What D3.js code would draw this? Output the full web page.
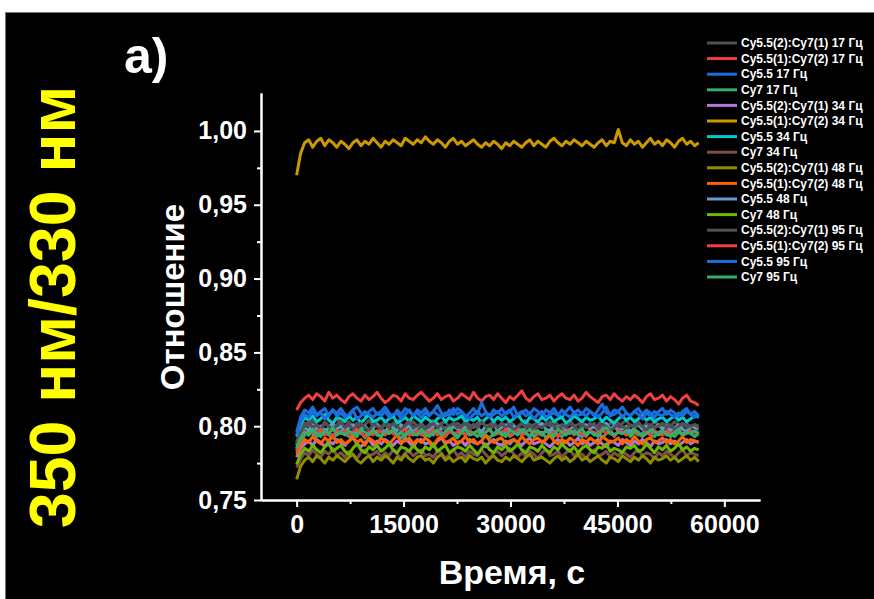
<!DOCTYPE html>
<html>
<head>
<meta charset="utf-8">
<script src="https://cdn.jsdelivr.net/npm/d3@7"></script>
<style>
  html, body { margin: 0; padding: 0; background: #fff; }
  svg { display: block; }
  text { font-family: "Liberation Sans", Arial, sans-serif; font-weight: bold; }
</style>
</head>
<body>
<svg id="chart" width="874" height="599"></svg>
<script>
// Sampling grid of the time traces (s)
const timeStep = 564;

// Ratio traces, one value per time sample
const ratio21_17 = [0.789,
  0.798,0.802,0.800,0.804,0.801,0.799,0.803,0.800,0.802,0.805,
  0.801,0.799,0.803,0.800,0.802,0.798,0.801,0.804,0.800,0.802,
  0.799,0.803,0.801,0.800,0.804,0.801,0.798,0.802,0.803,0.800,
  0.802,0.799,0.801,0.804,0.800,0.802,0.803,0.799,0.801,0.802,
  0.800,0.803,0.801,0.799,0.802,0.804,0.800,0.801,0.803,0.799,
  0.802,0.800,0.803,0.801,0.798,0.802,0.804,0.800,0.801,0.803,
  0.799,0.802,0.800,0.803,0.801,0.799,0.802,0.804,0.800,0.801,
  0.803,0.800,0.802,0.799,0.801,0.804,0.800,0.802,0.801,0.798,
  0.802,0.804,0.800,0.801,0.803,0.799,0.802,0.800,0.803,0.801,
  0.799,0.802,0.800,0.803,0.801,0.800,0.802,0.799,0.801,0.800];
const ratio12_17 = [0.811,
  0.816,0.819,0.821,0.818,0.822,0.820,0.817,0.823,0.819,0.821,
  0.818,0.816,0.820,0.822,0.819,0.817,0.821,0.818,0.820,0.823,
  0.819,0.816,0.818,0.821,0.820,0.817,0.822,0.819,0.818,0.821,
  0.823,0.820,0.817,0.819,0.822,0.818,0.820,0.821,0.817,0.819,
  0.822,0.820,0.818,0.823,0.819,0.817,0.820,0.821,0.818,0.822,
  0.819,0.816,0.820,0.818,0.821,0.824,0.819,0.817,0.820,0.822,
  0.818,0.819,0.821,0.817,0.820,0.822,0.819,0.818,0.821,0.817,
  0.819,0.823,0.820,0.818,0.816,0.820,0.821,0.818,0.822,0.819,
  0.817,0.820,0.818,0.821,0.819,0.816,0.820,0.822,0.818,0.819,
  0.821,0.817,0.820,0.818,0.815,0.819,0.821,0.817,0.816,0.814];
const cy55_17 = [0.796,
  0.806,0.811,0.809,0.813,0.808,0.810,0.812,0.807,0.811,0.809,
  0.812,0.808,0.806,0.811,0.813,0.809,0.807,0.810,0.812,0.808,
  0.810,0.813,0.809,0.806,0.811,0.808,0.812,0.810,0.807,0.811,
  0.809,0.812,0.808,0.810,0.814,0.809,0.807,0.811,0.808,0.812,
  0.810,0.806,0.809,0.812,0.808,0.816,0.810,0.807,0.811,0.809,
  0.812,0.808,0.810,0.813,0.807,0.809,0.811,0.808,0.812,0.810,
  0.807,0.811,0.809,0.812,0.808,0.806,0.810,0.813,0.809,0.811,
  0.808,0.812,0.810,0.807,0.811,0.815,0.809,0.808,0.811,0.810,
  0.813,0.809,0.807,0.810,0.812,0.808,0.811,0.809,0.806,0.810,
  0.812,0.808,0.811,0.809,0.807,0.810,0.812,0.808,0.810,0.807];
const cy7_17 = [0.783,
  0.790,0.794,0.797,0.795,0.793,0.796,0.798,0.794,0.792,0.795,
  0.797,0.795,0.793,0.794,0.797,0.796,0.792,0.795,0.798,0.794,
  0.793,0.796,0.795,0.797,0.794,0.792,0.795,0.796,0.794,0.797,
  0.795,0.793,0.796,0.794,0.798,0.795,0.793,0.797,0.795,0.792,
  0.796,0.794,0.797,0.795,0.793,0.796,0.794,0.792,0.795,0.797,
  0.794,0.796,0.793,0.795,0.797,0.794,0.796,0.798,0.793,0.795,
  0.796,0.792,0.795,0.797,0.794,0.793,0.796,0.795,0.797,0.794,
  0.793,0.795,0.797,0.794,0.796,0.792,0.795,0.797,0.794,0.796,
  0.795,0.797,0.793,0.796,0.794,0.795,0.798,0.794,0.793,0.796,
  0.797,0.794,0.795,0.793,0.796,0.794,0.797,0.795,0.793,0.795];
const ratio21_34 = [0.779,
  0.785,0.788,0.790,0.787,0.791,0.789,0.786,0.790,0.788,0.791,
  0.789,0.787,0.790,0.792,0.788,0.786,0.789,0.791,0.787,0.790,
  0.788,0.791,0.789,0.787,0.790,0.788,0.792,0.789,0.786,0.790,
  0.791,0.788,0.789,0.786,0.790,0.792,0.788,0.790,0.787,0.789,
  0.790,0.787,0.791,0.789,0.788,0.790,0.786,0.789,0.791,0.788,
  0.787,0.790,0.788,0.791,0.789,0.787,0.790,0.792,0.788,0.789,
  0.790,0.788,0.786,0.789,0.791,0.788,0.790,0.787,0.789,0.792,
  0.788,0.790,0.787,0.789,0.791,0.788,0.786,0.790,0.789,0.787,
  0.791,0.789,0.787,0.790,0.788,0.791,0.789,0.786,0.790,0.788,
  0.789,0.791,0.788,0.790,0.787,0.789,0.791,0.788,0.790,0.789];
const ratio12_34 = [0.970,
  0.985,0.992,0.994,0.989,0.993,0.995,0.990,0.994,0.992,0.989,
  0.993,0.991,0.988,0.992,0.994,0.990,0.993,0.991,0.995,0.992,
  0.989,0.993,0.991,0.994,0.992,0.990,0.995,0.993,0.991,0.994,
  0.992,0.996,0.993,0.991,0.994,0.992,0.989,0.993,0.995,0.991,
  0.993,0.990,0.992,0.994,0.991,0.989,0.992,0.990,0.993,0.991,
  0.988,0.992,0.990,0.993,0.991,0.989,0.992,0.994,0.990,0.993,
  0.991,0.989,0.993,0.995,0.992,0.990,0.993,0.991,0.994,0.992,
  0.990,0.993,0.991,0.989,0.992,0.994,0.990,0.993,0.992,1.001,
  0.992,0.990,0.994,0.991,0.993,0.989,0.992,0.995,0.991,0.993,
  0.990,0.994,0.992,0.989,0.993,0.995,0.991,0.993,0.990,0.992];
const cy55_34 = [0.793,
  0.801,0.806,0.804,0.807,0.803,0.805,0.808,0.804,0.802,0.806,
  0.805,0.803,0.807,0.804,0.806,0.802,0.805,0.808,0.803,0.804,
  0.806,0.803,0.805,0.807,0.802,0.804,0.806,0.803,0.807,0.805,
  0.803,0.806,0.804,0.802,0.805,0.807,0.803,0.806,0.804,0.805,
  0.807,0.803,0.805,0.804,0.806,0.802,0.805,0.807,0.803,0.806,
  0.804,0.806,0.803,0.805,0.808,0.804,0.802,0.806,0.805,0.803,
  0.806,0.804,0.807,0.803,0.805,0.806,0.802,0.804,0.807,0.805,
  0.803,0.806,0.804,0.805,0.807,0.803,0.806,0.804,0.802,0.805,
  0.807,0.804,0.806,0.803,0.805,0.807,0.804,0.806,0.803,0.805,
  0.806,0.803,0.805,0.807,0.804,0.806,0.803,0.805,0.807,0.806];
const cy7_34 = [0.772,
  0.778,0.782,0.780,0.784,0.781,0.779,0.783,0.781,0.785,0.780,
  0.782,0.779,0.783,0.781,0.778,0.782,0.784,0.780,0.781,0.783,
  0.779,0.782,0.780,0.784,0.781,0.778,0.782,0.783,0.780,0.782,
  0.784,0.780,0.781,0.779,0.783,0.782,0.778,0.781,0.784,0.780,
  0.782,0.779,0.783,0.781,0.780,0.784,0.781,0.778,0.782,0.783,
  0.780,0.782,0.785,0.781,0.779,0.782,0.780,0.783,0.781,0.778,
  0.782,0.784,0.780,0.781,0.783,0.779,0.782,0.784,0.780,0.782,
  0.781,0.778,0.782,0.784,0.780,0.781,0.783,0.779,0.782,0.780,
  0.783,0.781,0.779,0.782,0.784,0.780,0.782,0.781,0.778,0.782,
  0.780,0.783,0.781,0.779,0.782,0.784,0.780,0.782,0.781,0.780];
const ratio21_48 = [0.764,
  0.773,0.777,0.779,0.776,0.780,0.778,0.775,0.779,0.777,0.780,
  0.778,0.776,0.779,0.781,0.777,0.775,0.778,0.780,0.776,0.779,
  0.777,0.780,0.778,0.775,0.779,0.777,0.781,0.778,0.776,0.779,
  0.780,0.777,0.778,0.775,0.779,0.781,0.777,0.779,0.776,0.778,
  0.779,0.776,0.780,0.778,0.777,0.779,0.775,0.778,0.780,0.777,
  0.776,0.779,0.777,0.780,0.778,0.776,0.779,0.781,0.777,0.778,
  0.779,0.777,0.775,0.778,0.780,0.777,0.779,0.776,0.778,0.781,
  0.777,0.779,0.776,0.778,0.780,0.777,0.775,0.779,0.778,0.776,
  0.780,0.778,0.776,0.779,0.777,0.780,0.778,0.775,0.779,0.777,
  0.778,0.780,0.777,0.779,0.776,0.778,0.780,0.777,0.779,0.776];
const ratio12_48 = [0.781,
  0.787,0.791,0.789,0.793,0.790,0.788,0.792,0.790,0.794,0.789,
  0.791,0.788,0.790,0.793,0.789,0.791,0.787,0.792,0.790,0.788,
  0.792,0.790,0.788,0.791,0.794,0.789,0.790,0.792,0.788,0.791,
  0.789,0.792,0.790,0.787,0.791,0.793,0.789,0.790,0.792,0.788,
  0.790,0.793,0.789,0.791,0.788,0.790,0.794,0.790,0.789,0.791,
  0.792,0.788,0.790,0.791,0.789,0.793,0.790,0.788,0.791,0.792,
  0.789,0.791,0.794,0.790,0.788,0.791,0.789,0.792,0.790,0.787,
  0.791,0.789,0.792,0.790,0.788,0.793,0.791,0.789,0.790,0.792,
  0.788,0.791,0.789,0.793,0.790,0.788,0.791,0.792,0.789,0.790,
  0.792,0.789,0.791,0.788,0.790,0.793,0.789,0.791,0.790,0.789];
const cy55_48 = [0.787,
  0.795,0.799,0.797,0.801,0.798,0.800,0.796,0.799,0.802,0.798,
  0.800,0.797,0.799,0.801,0.796,0.798,0.800,0.797,0.799,0.801,
  0.798,0.796,0.800,0.799,0.797,0.801,0.798,0.800,0.796,0.799,
  0.801,0.798,0.797,0.800,0.802,0.798,0.799,0.796,0.800,0.798,
  0.797,0.800,0.798,0.801,0.799,0.796,0.800,0.798,0.801,0.797,
  0.799,0.801,0.797,0.800,0.798,0.796,0.799,0.801,0.798,0.800,
  0.802,0.798,0.797,0.800,0.799,0.801,0.797,0.798,0.800,0.796,
  0.799,0.801,0.798,0.800,0.797,0.799,0.802,0.798,0.800,0.797,
  0.798,0.800,0.796,0.799,0.801,0.798,0.800,0.797,0.799,0.801,
  0.798,0.800,0.797,0.799,0.801,0.798,0.796,0.800,0.799,0.798];
const cy7_48 = [0.774,
  0.781,0.785,0.783,0.787,0.784,0.782,0.786,0.788,0.783,0.785,
  0.787,0.783,0.781,0.785,0.788,0.784,0.782,0.786,0.784,0.787,
  0.783,0.785,0.788,0.784,0.782,0.786,0.785,0.783,0.787,0.784,
  0.782,0.786,0.784,0.788,0.783,0.785,0.787,0.782,0.784,0.786,
  0.785,0.783,0.787,0.784,0.781,0.785,0.788,0.784,0.782,0.786,
  0.784,0.787,0.783,0.785,0.788,0.784,0.782,0.786,0.785,0.783,
  0.787,0.784,0.782,0.786,0.784,0.788,0.785,0.783,0.786,0.782,
  0.785,0.787,0.784,0.782,0.786,0.785,0.788,0.783,0.785,0.784,
  0.782,0.786,0.785,0.787,0.783,0.784,0.788,0.785,0.782,0.786,
  0.784,0.787,0.783,0.785,0.788,0.784,0.786,0.783,0.785,0.784];
const ratio21_95 = [0.788,
  0.796,0.800,0.803,0.799,0.801,0.798,0.802,0.800,0.797,0.801,
  0.803,0.799,0.801,0.798,0.800,0.802,0.799,0.797,0.801,0.800,
  0.798,0.801,0.799,0.802,0.800,0.797,0.801,0.803,0.799,0.800,
  0.801,0.798,0.800,0.802,0.799,0.801,0.797,0.800,0.802,0.799,
  0.800,0.802,0.798,0.801,0.799,0.803,0.800,0.798,0.801,0.799,
  0.802,0.799,0.801,0.797,0.800,0.802,0.799,0.801,0.798,0.800,
  0.799,0.801,0.803,0.800,0.798,0.801,0.799,0.802,0.800,0.797,
  0.801,0.799,0.800,0.802,0.798,0.801,0.800,0.797,0.799,0.802,
  0.800,0.798,0.801,0.799,0.802,0.800,0.797,0.801,0.799,0.800,
  0.802,0.799,0.801,0.798,0.800,0.802,0.799,0.800,0.801,0.799];
const ratio12_95 = [0.784,
  0.792,0.796,0.794,0.797,0.795,0.798,0.794,0.796,0.793,0.797,
  0.795,0.797,0.794,0.796,0.798,0.795,0.793,0.796,0.794,0.797,
  0.796,0.794,0.797,0.795,0.793,0.796,0.798,0.794,0.795,0.797,
  0.794,0.796,0.795,0.798,0.794,0.796,0.793,0.797,0.795,0.796,
  0.797,0.794,0.796,0.795,0.797,0.793,0.796,0.798,0.794,0.795,
  0.796,0.798,0.794,0.795,0.797,0.794,0.796,0.793,0.797,0.795,
  0.794,0.797,0.795,0.796,0.793,0.797,0.795,0.798,0.794,0.796,
  0.795,0.793,0.797,0.796,0.794,0.798,0.795,0.796,0.793,0.797,
  0.796,0.794,0.795,0.797,0.795,0.793,0.796,0.794,0.797,0.795,
  0.794,0.797,0.795,0.796,0.798,0.794,0.795,0.797,0.796,0.795];
const cy55_95 = [0.794,
  0.803,0.808,0.806,0.810,0.807,0.809,0.805,0.808,0.811,0.807,
  0.809,0.806,0.808,0.811,0.805,0.807,0.810,0.808,0.806,0.809,
  0.807,0.810,0.806,0.808,0.809,0.805,0.808,0.811,0.807,0.809,
  0.806,0.809,0.807,0.810,0.808,0.806,0.809,0.807,0.812,0.808,
  0.810,0.807,0.805,0.808,0.810,0.807,0.809,0.806,0.808,0.810,
  0.807,0.809,0.811,0.806,0.808,0.810,0.807,0.809,0.805,0.808,
  0.810,0.806,0.808,0.809,0.807,0.811,0.808,0.806,0.809,0.807,
  0.809,0.807,0.810,0.808,0.806,0.809,0.813,0.807,0.808,0.810,
  0.806,0.809,0.807,0.810,0.808,0.805,0.809,0.807,0.810,0.808,
  0.807,0.810,0.808,0.806,0.809,0.807,0.810,0.808,0.806,0.808];
const cy7_95 = [0.785,
  0.792,0.796,0.794,0.798,0.795,0.793,0.797,0.795,0.799,0.794,
  0.796,0.794,0.797,0.795,0.793,0.798,0.796,0.794,0.797,0.795,
  0.793,0.797,0.795,0.798,0.794,0.796,0.793,0.797,0.795,0.794,
  0.798,0.795,0.793,0.796,0.797,0.794,0.796,0.799,0.795,0.793,
  0.796,0.798,0.794,0.795,0.797,0.793,0.796,0.798,0.794,0.797,
  0.795,0.793,0.797,0.796,0.794,0.798,0.795,0.793,0.796,0.797,
  0.794,0.797,0.795,0.793,0.798,0.796,0.794,0.797,0.795,0.796,
  0.798,0.794,0.796,0.795,0.793,0.797,0.799,0.795,0.794,0.796,
  0.795,0.797,0.794,0.798,0.796,0.793,0.795,0.797,0.796,0.794,
  0.797,0.795,0.793,0.796,0.798,0.794,0.796,0.795,0.797,0.795];

// Legend labels, in plotting order
const seriesLabels = [
  "Cy5.5(2):Cy7(1) 17 Гц", "Cy5.5(1):Cy7(2) 17 Гц", "Cy5.5 17 Гц", "Cy7 17 Гц",
  "Cy5.5(2):Cy7(1) 34 Гц", "Cy5.5(1):Cy7(2) 34 Гц", "Cy5.5 34 Гц", "Cy7 34 Гц",
  "Cy5.5(2):Cy7(1) 48 Гц", "Cy5.5(1):Cy7(2) 48 Гц", "Cy5.5 48 Гц", "Cy7 48 Гц",
  "Cy5.5(2):Cy7(1) 95 Гц", "Cy5.5(1):Cy7(2) 95 Гц", "Cy5.5 95 Гц", "Cy7 95 Гц"
];
const seriesValues = [
  ratio21_17, ratio12_17, cy55_17, cy7_17,
  ratio21_34, ratio12_34, cy55_34, cy7_34,
  ratio21_48, ratio12_48, cy55_48, cy7_48,
  ratio21_95, ratio12_95, cy55_95, cy7_95
];
const seriesColors = [
  "#515151", "#F14040", "#1A6FDF", "#37AD6B",
  "#B177DE", "#CC9900", "#00CBCC", "#7D4E4E",
  "#8E8E00", "#FB6501", "#6699CC", "#6FB802",
  "#515151", "#F14040", "#1A6FDF", "#37AD6B"
];

// Axis ticks
const xMajorTicks = [0, 15000, 30000, 45000, 60000];
const xMinorTicks = [7500, 22500, 37500, 52500];
const yMajorTicks = [0.75, 0.80, 0.85, 0.90, 0.95, 1.00];
const yMinorTicks = [0.775, 0.825, 0.875, 0.925, 0.975];

const svg = d3.select("#chart");

// page frame
svg.append("rect").attr("width", 874).attr("height", 599).attr("fill", "#fff");
svg.append("rect").attr("x", 5.5).attr("y", 12.5).attr("width", 870).attr("height", 590)
  .attr("fill", "#000").attr("stroke", "#777").attr("stroke-width", 1);

const x = d3.scaleLinear().domain([-5000, 65000]).range([261, 760]);
const y = d3.scaleLinear().domain([0.75, 1.0257]).range([500, 93]);

const commaFmt = d => d3.format(".2f")(d).replace(".", ",");

function styleAxis(g) {
  g.selectAll("path.domain").attr("stroke", "#fff").attr("stroke-width", 2);
  g.selectAll(".tick line").attr("stroke", "#fff").attr("stroke-width", 2);
  g.selectAll(".tick text").attr("fill", "#fff").style("font-size", "25px")
    .style("font-family", "'Liberation Sans', Arial, sans-serif").style("font-weight", "bold");
}

// x axis
svg.append("g").attr("transform", "translate(0,500)")
  .call(d3.axisBottom(x).tickValues(xMinorTicks).tickSize(4).tickSizeOuter(0).tickFormat(""))
  .call(styleAxis);
svg.append("g").attr("transform", "translate(0,500)")
  .call(d3.axisBottom(x).tickValues(xMajorTicks).tickSize(7).tickSizeOuter(0).tickPadding(8).tickFormat(d => String(d)))
  .call(styleAxis);

// y axis
svg.append("g").attr("transform", "translate(261,0)")
  .call(d3.axisLeft(y).tickValues(yMinorTicks).tickSize(4).tickSizeOuter(0).tickFormat(""))
  .call(styleAxis);
svg.append("g").attr("transform", "translate(261,0)")
  .call(d3.axisLeft(y).tickValues(yMajorTicks).tickSize(7).tickSizeOuter(0).tickPadding(7).tickFormat(commaFmt))
  .call(styleAxis);

// traces
const line = d3.line()
  .x((d, i) => x(i * timeStep))
  .y(d => y(d));

const plot = svg.append("g");
seriesValues.forEach((vals, k) => {
  plot.append("path")
    .datum(vals)
    .attr("fill", "none")
    .attr("stroke", seriesColors[k])
    .attr("stroke-width", 3)
    .attr("stroke-linejoin", "round")
    .attr("d", line);
});

// axis titles
svg.append("text")
  .attr("transform", "translate(184,297) rotate(-90)")
  .attr("text-anchor", "middle")
  .attr("fill", "#fff")
  .style("font-size", "33px")
  .text("Отношение");

svg.append("text")
  .attr("x", 512).attr("y", 584)
  .attr("text-anchor", "middle")
  .attr("fill", "#fff")
  .style("font-size", "34px")
  .text("Время, с");

// panel letter
svg.append("text")
  .attr("x", 124).attr("y", 73)
  .attr("fill", "#fff")
  .style("font-size", "50px")
  .text("a)");

// wavelength pair
svg.append("text")
  .attr("transform", "translate(75,307) rotate(-90)")
  .attr("text-anchor", "middle")
  .attr("fill", "#FFFF00")
  .style("font-size", "64.5px")
  .text("350 нм/330 нм");

// legend
const legend = svg.append("g");
seriesLabels.forEach((label, k) => {
  const ly = 43 + k * 15.6;
  legend.append("line")
    .attr("x1", 707).attr("x2", 737).attr("y1", ly).attr("y2", ly)
    .attr("stroke", seriesColors[k]).attr("stroke-width", 3);
  legend.append("text")
    .attr("x", 741).attr("y", ly)
    .attr("dy", "0.35em")
    .attr("fill", "#fff")
    .style("font-size", "12px")
    .text(label);
});
</script>
</body>
</html>
